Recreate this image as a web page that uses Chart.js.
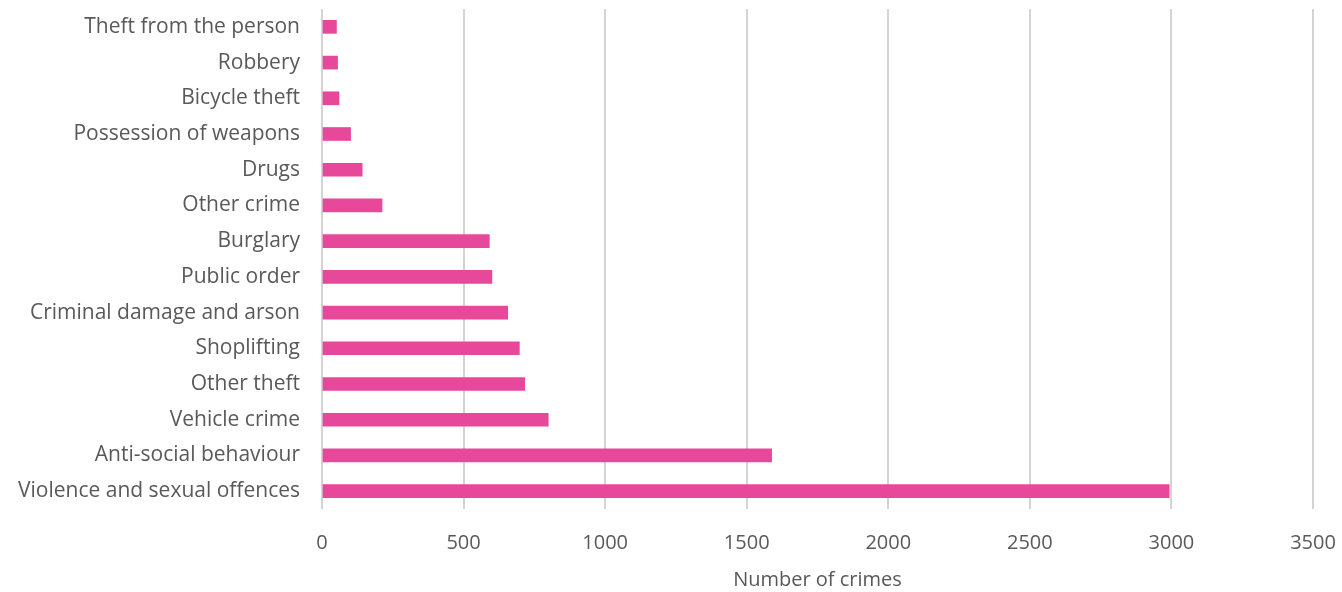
<!DOCTYPE html>
<html>
<head>
<meta charset="utf-8">
<script src="https://cdn.jsdelivr.net/npm/chart.js@4"></script>
<style>
  html, body { margin: 0; padding: 0; background: #fff; }
  #wrap { width: 1342px; height: 592px; }
</style>
</head>
<body>
<div id="wrap"><canvas id="crime-chart"></canvas></div>
<script>
'use strict';

const crimeTypes = [
    'Theft from the person',
    'Robbery',
    'Bicycle theft',
    'Possession of weapons',
    'Drugs',
    'Other crime',
    'Burglary',
    'Public order',
    'Criminal damage and arson',
    'Shoplifting',
    'Other theft',
    'Vehicle crime',
    'Anti-social behaviour',
    'Violence and sexual offences',
];
const crimeCounts = [51, 55, 60, 101, 142, 212, 591, 600, 656, 697, 716, 799, 1588, 2992];
const xTicks = [0, 500, 1000, 1500, 2000, 2500, 3000, 3500];

const textColor = '#595959';
const fontFamily = '"Open Sans", "Liberation Sans", sans-serif';

const crimeChartElement = document.getElementById('crime-chart');
const crimeChart = new Chart(crimeChartElement, {
    type: 'bar',
    data: {
        labels: crimeTypes,
        datasets: [{
            data: crimeCounts,
            backgroundColor: '#e8489a',
            barThickness: 13,
        }],
    },
    options: {
        indexAxis: 'y',
        responsive: true,
        maintainAspectRatio: false,
        animation: false,
        layout: {
            padding: { top: 9, right: 29, bottom: 0, left: 0 },
        },
        scales: {
            x: {
                min: 0,
                max: 3500,
                afterBuildTicks: function (axis) {
                    axis.ticks = xTicks.map(v => ({ value: v }));
                },
                afterFit: function (scale) {
                    scale.height = 83;
                    scale.paddingLeft = 0;
                    scale.paddingRight = 0;
                },
                grid: {
                    color: '#d4d4d4',
                    lineWidth: 2,
                    drawTicks: false,
                },
                border: { display: false },
                ticks: {
                    color: textColor,
                    padding: 22,
                    font: { family: fontFamily, size: 20 },
                    callback: function (value) {
                        return String(value);
                    },
                },
                title: {
                    display: true,
                    text: 'Number of crimes',
                    color: textColor,
                    padding: { top: 0, bottom: 0 },
                    font: { family: fontFamily, size: 20 },
                },
            },
            y: {
                afterFit: function (scale) {
                    scale.width = 322;
                    scale.paddingTop = 0;
                    scale.paddingBottom = 0;
                },
                grid: { display: false, drawTicks: false },
                border: { display: false },
                ticks: {
                    color: textColor,
                    padding: 22,
                    font: { family: fontFamily, size: 21 },
                },
            },
        },
        plugins: {
            legend: { display: false },
            tooltip: { enabled: false },
        },
    },
});
</script>
</body>
</html>
